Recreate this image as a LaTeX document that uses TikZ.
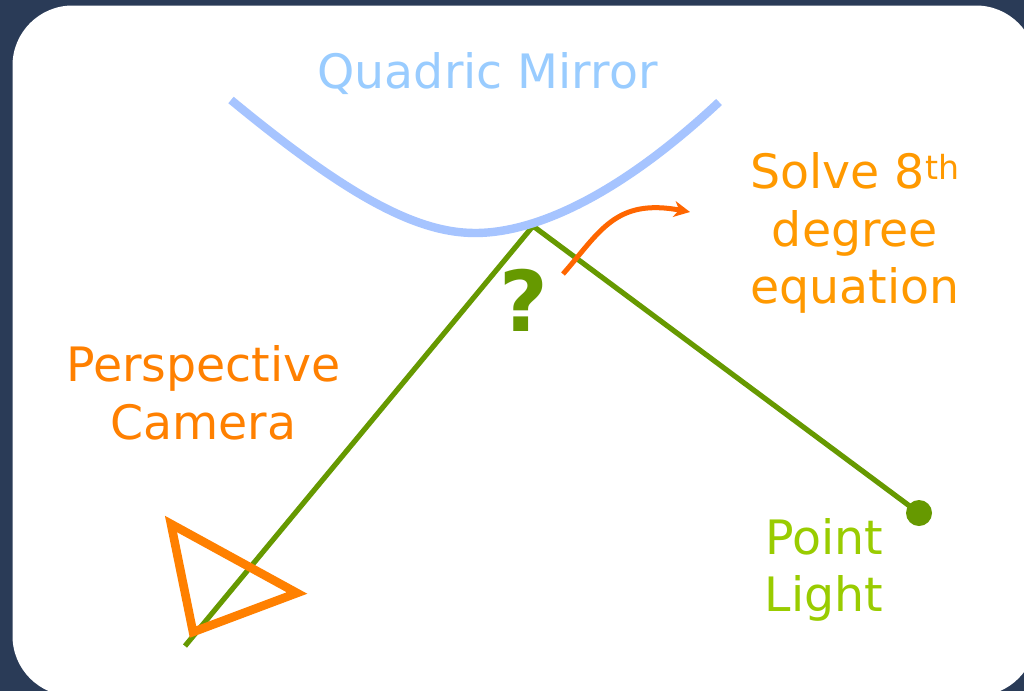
\documentclass[tikz,border=0pt]{standalone}
\usepackage{fontspec}
\setmainfont{DejaVu Sans}
\usetikzlibrary{arrows.meta}
\definecolor{bgnavy}{HTML}{2A3B57}
\definecolor{mirrorblue}{HTML}{A6C4FF}
\definecolor{mirrortext}{HTML}{99CCFF}
\definecolor{raygreen}{HTML}{669900}
\definecolor{lightgreen}{HTML}{99CC00}
\definecolor{camorange}{HTML}{FF8000}
\definecolor{solveorange}{HTML}{FF9900}
\definecolor{arroworange}{HTML}{FF6600}
\tikzset{
  lbl/.style={inner sep=0pt,align=center,font=\fontsize{47.4}{57.5}\selectfont},
  ray/.style={draw=raygreen,line width=5.2pt},
}
\begin{document}
\begin{tikzpicture}[x=1pt,y=-1pt]
\useasboundingbox (0,0) rectangle (1024,691);
\fill[bgnavy] (0,0) rectangle (1024,691);
\fill[white,rounded corners=60pt] (12.5,5.5) rectangle (1036,696);
% points
\coordinate (eye) at (185,646);
\coordinate (hit) at (533,226);
\node[circle,fill=raygreen,minimum size=26pt,inner sep=0pt] (light) at (919,513) {};
\draw[ray] (eye) -- (hit) -- (light.center);
% mirror
\draw[mirrorblue,line width=8.4pt] (231,100) .. controls (345,194) and (415,233) .. (475,233) .. controls (540,233) and (625,190) .. (719,102);
% camera
\draw[camorange,line width=8.6pt,miter limit=10] (171,524) -- (297,593) -- (193,632) -- cycle;
% arrow
\coordinate (arrS) at (563,274);
\coordinate (arrE) at (690,212);
\draw[arroworange,line width=5pt,-{Stealth[length=16pt,width=16pt,inset=5pt]}] (arrS) .. controls (600,232) and (615,198) .. (arrE);
% labels
\node[lbl,text=mirrortext] (qm) at (487.5,74) {Quadric Mirror};
\node[lbl,text=solveorange] (solve) at (855,233) {Solve 8\textsuperscript{th}\\degree\\equation};
\node[lbl,text=camorange] (cam) at (203.5,393) {Perspective\\Camera};
\node[lbl,text=lightgreen] (pl) at (824,570) {Point\\Light};
\node[inner sep=0pt,text=raygreen,font=\fontsize{84}{84}\selectfont\bfseries] (q) at (523.5,300.5) {?};
\end{tikzpicture}
\end{document}
